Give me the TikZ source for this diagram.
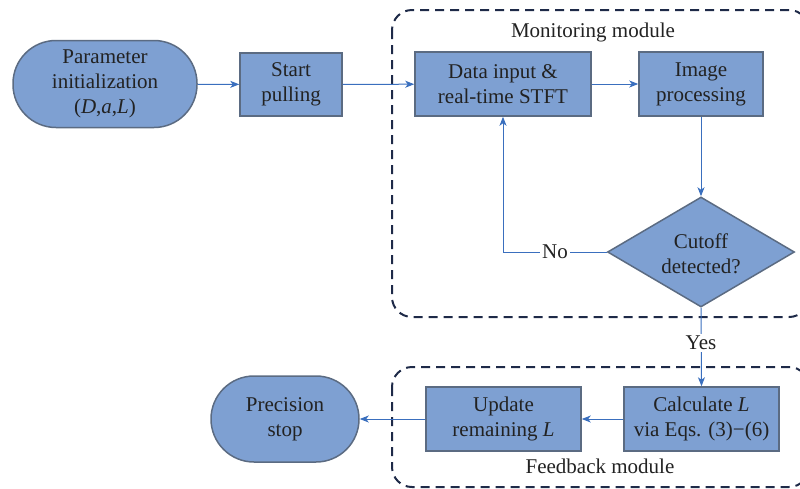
\documentclass[tikz,border=0pt]{standalone}
\usepackage{fontspec}
\setmainfont{Liberation Serif}
\usetikzlibrary{arrows.meta,shapes.geometric}
\definecolor{boxfill}{HTML}{7EA0D2}
\definecolor{boxline}{HTML}{5B6B82}
\definecolor{arrowc}{HTML}{3A6FBE}
\definecolor{modline}{HTML}{1E2A48}
\definecolor{txtc}{HTML}{222222}
\tikzset{
  every node/.style={font=\fontsize{21}{25}\selectfont, text=txtc, align=center},
  procbox/.style={draw=boxline, line width=1.5pt, fill=boxfill, inner sep=0pt},
  termbox/.style={draw=boxline, line width=1.5pt, fill=boxfill, inner sep=0pt},
  dia/.style={draw=boxline, line width=1.5pt, fill=boxfill, diamond, inner sep=0pt, minimum width=187pt, minimum height=110pt},
  flow/.style={draw=arrowc, line width=1pt, -{Stealth[length=9pt,width=7pt,inset=2.5pt]}},
  modbox/.style={draw=modline, line width=2pt, dash pattern=on 9pt off 6pt, rounded corners=20pt},
  lbl/.style={fill=white, inner sep=2pt}
}
\begin{document}
\begin{tikzpicture}[x=1pt,y=-1pt]
\useasboundingbox (0,0) rectangle (800,488);
% module frames
\begin{scope}
\clip (0,0) rectangle (800,488);
\draw[modbox] (392,10) rectangle (809,317);
\draw[modbox] (392,367) rectangle (809,487);
\end{scope}
\node (monlbl) at (593,32) {Monitoring module};
\node (fblbl) at (600,466) {Feedback module};
% nodes
\node[termbox, minimum width=184pt, minimum height=87pt, rounded corners=43pt] (param) at (105,84) {Parameter\\initialization\\(\textit{D},\textit{a},\textit{L})};
\node[procbox, minimum width=102pt, minimum height=63pt] (start) at (291,84.5) {Start\\pulling};
\node[procbox, minimum width=176pt, minimum height=64pt] (data) at (503,84) {Data input \&\\real-time STFT};
\node[procbox, minimum width=124pt, minimum height=64pt] (img) at (701,84) {Image\\processing};
\node[dia] (cut) at (701,252) {};
\node (cuttxt) at (701,254) {Cutoff\\detected?};
\node[procbox, minimum width=155pt, minimum height=64pt] (calc) at (701.5,419) {Calculate \textit{L}\\via Eqs. (3)−(6)};
\node[procbox, minimum width=155pt, minimum height=64pt] (upd) at (503.5,419) {Update\\remaining \textit{L}};
\node[termbox, minimum width=148pt, minimum height=86pt, rounded corners=43pt] (stop) at (285,419) {Precision\\stop};
\coordinate (nocorner) at (503,252);
% connectors
\draw[flow] (param) -- (start);
\draw[flow] (start) -- (data);
\draw[flow] (data) -- (img);
\draw[flow] (img) -- (cut.north);
\draw[flow] (cut.west) -- (nocorner) -- (data.south);
\node[lbl] (nolbl) at (555,252) {No};
\draw[flow] (cut.south) -- (calc.north);
\node[lbl] (yeslbl) at (701,343) {Yes};
\draw[flow] (calc) -- (upd);
\draw[flow] (upd) -- (stop);
\end{tikzpicture}
\end{document}
